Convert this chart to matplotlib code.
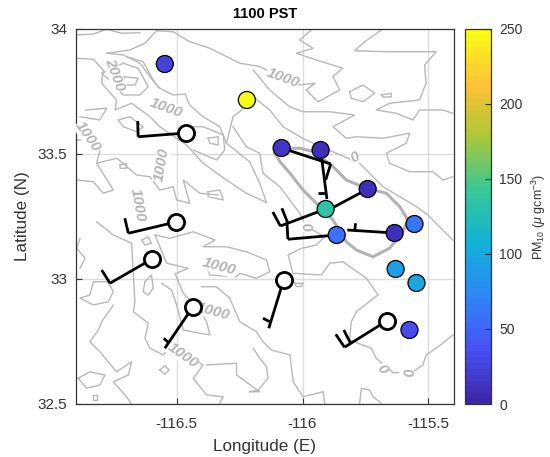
import matplotlib
matplotlib.use('Agg')
import matplotlib.pyplot as plt
from matplotlib.colors import LinearSegmentedColormap

plt.rcParams['font.family'] = ['Liberation Sans', 'DejaVu Sans']
plt.rcParams['mathtext.fontset'] = 'custom'
plt.rcParams['mathtext.rm'] = 'Liberation Sans'
plt.rcParams['mathtext.it'] = 'Liberation Sans:italic'

# parula
parula_colors = [(0.2422, 0.1504, 0.6603), (0.2810, 0.3228, 0.9579), (0.1786, 0.5289, 0.9682),
                 (0.0689, 0.6948, 0.8394), (0.2161, 0.7843, 0.5923), (0.6720, 0.7793, 0.2227),
                 (0.9970, 0.7659, 0.2199), (0.9769, 0.9839, 0.0805)]
parula = LinearSegmentedColormap.from_list('parula', parula_colors, N=64)

# stations with PM10
pm_lon = [-116.547, -116.221, -116.083, -115.928, -115.741, -115.908, -115.864, -115.634, -115.555, -115.630, -115.547, -115.575]
pm_lat = [33.860, 33.716, 33.524, 33.516, 33.360, 33.280, 33.176, 33.184, 33.220, 33.040, 32.984, 32.796]
pm_val = [25, 250, 15, 10, 8, 135, 55, 8, 62, 90, 100, 35]

# stations with wind only
open_lon = [-116.464, -116.503, -116.598, -116.436, -116.075, -115.666]
open_lat = [33.584, 33.228, 33.080, 32.888, 32.996, 32.832]

# wind sticks: station, stick end
wind_sticks = [
    [(-116.464, 33.584), (-116.653, 33.569)],
    [(-116.503, 33.228), (-116.692, 33.183)],
    [(-116.598, 33.080), (-116.765, 32.983)],
    [(-116.436, 32.888), (-116.547, 32.723)],
    [(-116.075, 32.996), (-116.134, 32.803)],
    [(-115.666, 32.832), (-115.833, 32.727)],
    [(-115.908, 33.280), (-116.088, 33.212)],
    [(-115.864, 33.176), (-116.058, 33.159)],
    [(-115.928, 33.516), (-115.903, 33.320)],
    [(-116.083, 33.524), (-115.888, 33.460)],
    [(-115.741, 33.360), (-115.908, 33.270)],
    [(-115.634, 33.184), (-115.822, 33.196)],
]
wind_barbs = [
    [(-116.653, 33.569), (-116.655, 33.632)],
    [(-116.692, 33.183), (-116.706, 33.243)],
    [(-116.765, 32.983), (-116.798, 33.036)],
    [(-116.530, 32.743), (-116.551, 32.763)],
    [(-116.126, 32.827), (-116.157, 32.843)],
    [(-115.833, 32.727), (-115.868, 32.779)],
    [(-115.809, 32.743), (-115.836, 32.796)],
    [(-116.088, 33.212), (-116.118, 33.268)],
    [(-116.058, 33.223), (-116.082, 33.283)],
    [(-116.058, 33.159), (-116.062, 33.229)],
    [(-115.905, 33.343), (-115.938, 33.343)],
    [(-115.888, 33.460), (-115.908, 33.396)],
    [(-115.793, 33.190), (-115.789, 33.223)],
]

# shoreline of the lake, drawn heavier
shoreline = [(-116.110, 33.503), (-116.077, 33.523), (-116.011, 33.523), (-115.958, 33.510), (-115.885, 33.456),
             (-115.826, 33.396), (-115.746, 33.363), (-115.667, 33.343), (-115.614, 33.290), (-115.581, 33.236),
             (-115.601, 33.189), (-115.654, 33.123), (-115.720, 33.089), (-115.786, 33.116), (-115.826, 33.149),
             (-115.879, 33.236), (-115.945, 33.303), (-115.998, 33.356), (-116.050, 33.423), (-116.090, 33.470),
             (-116.110, 33.503)]

# terrain contours
contour_lines = [
    [(-116.897, 33.976), (-116.831, 33.980), (-116.778, 33.999), (-116.719, 33.983), (-116.646, 33.985)],
    [(-116.778, 33.903), (-116.686, 33.916), (-116.626, 33.943), (-116.580, 33.993), (-116.514, 33.989),
     (-116.448, 33.949), (-116.368, 33.923), (-116.249, 33.863), (-116.170, 33.850), (-116.143, 33.836),
     (-116.077, 33.796), (-116.011, 33.776), (-115.950, 33.783), (-115.985, 33.756), (-115.938, 33.709),
     (-115.852, 33.756), (-115.879, 33.810), (-115.840, 33.843), (-115.945, 33.876), (-116.024, 33.903),
     (-115.958, 33.923), (-116.011, 33.956), (-115.965, 33.996)],
    [(-116.897, 33.883), (-116.831, 33.879), (-116.792, 33.836), (-116.798, 33.783), (-116.739, 33.716),
     (-116.745, 33.676), (-116.679, 33.703), (-116.606, 33.649), (-116.567, 33.609), (-116.461, 33.536),
     (-116.395, 33.463), (-116.302, 33.396), (-116.223, 33.343), (-116.143, 33.306)],
    [(-116.778, 33.903), (-116.712, 33.896), (-116.646, 33.863), (-116.606, 33.809), (-116.567, 33.763),
     (-116.514, 33.736), (-116.467, 33.740), (-116.448, 33.696), (-116.395, 33.649), (-116.328, 33.609),
     (-116.302, 33.543), (-116.210, 33.469), (-116.170, 33.383), (-116.143, 33.306)],
    [(-116.712, 33.863), (-116.653, 33.843), (-116.613, 33.769), (-116.646, 33.736), (-116.712, 33.736),
     (-116.752, 33.783), (-116.798, 33.823), (-116.712, 33.863)],
    [(-116.712, 33.809), (-116.653, 33.803), (-116.666, 33.776), (-116.705, 33.776), (-116.712, 33.809)],
    [(-116.699, 33.889), (-116.633, 33.869), (-116.586, 33.783), (-116.567, 33.763)],
    [(-116.732, 33.636), (-116.686, 33.649), (-116.633, 33.609), (-116.659, 33.589), (-116.712, 33.609), (-116.732, 33.636)],
    [(-116.375, 33.563), (-116.335, 33.569), (-116.335, 33.536), (-116.368, 33.543), (-116.375, 33.563)],
    [(-116.474, 33.609), (-116.395, 33.609), (-116.315, 33.576), (-116.309, 33.516), (-116.342, 33.476), (-116.434, 33.516)],
    [(-116.897, 33.556), (-116.858, 33.556), (-116.805, 33.516), (-116.818, 33.463), (-116.752, 33.356),
     (-116.792, 33.343), (-116.831, 33.389), (-116.897, 33.396)],
    [(-116.818, 33.463), (-116.738, 33.483), (-116.659, 33.416), (-116.606, 33.409), (-116.567, 33.356), (-116.514, 33.369),
     (-116.500, 33.316), (-116.448, 33.303), (-116.474, 33.396), (-116.408, 33.343), (-116.335, 33.336)],
    [(-116.375, 33.349), (-116.328, 33.356), (-116.315, 33.316), (-116.375, 33.329), (-116.375, 33.349)],
    [(-116.884, 33.649), (-116.805, 33.636), (-116.778, 33.683), (-116.862, 33.676)],
    [(-116.725, 33.456), (-116.699, 33.463), (-116.699, 33.443), (-116.725, 33.443), (-116.725, 33.456)],
    [(-116.818, 33.229), (-116.752, 33.176), (-116.679, 33.143), (-116.672, 33.016), (-116.666, 32.909),
     (-116.672, 32.869), (-116.613, 32.823), (-116.626, 32.763), (-116.606, 32.723), (-116.553, 32.696), (-116.514, 32.749)],
    [(-116.884, 33.163), (-116.897, 33.123), (-116.864, 33.083), (-116.884, 33.043)],
    [(-116.772, 32.989), (-116.831, 32.989), (-116.845, 32.936), (-116.884, 32.923), (-116.831, 32.896),
     (-116.772, 32.909), (-116.752, 32.949), (-116.772, 32.989)],
    [(-116.752, 32.896), (-116.798, 32.829), (-116.811, 32.796), (-116.845, 32.749), (-116.805, 32.709),
     (-116.739, 32.629), (-116.679, 32.669), (-116.692, 32.616), (-116.752, 32.589), (-116.699, 32.529), (-116.680, 32.500)],
    [(-116.891, 32.603), (-116.845, 32.629), (-116.785, 32.616), (-116.805, 32.576), (-116.858, 32.563), (-116.891, 32.603)],
    [(-116.832, 32.535), (-116.818, 32.535), (-116.818, 32.515), (-116.832, 32.515), (-116.832, 32.535)],
    [(-116.527, 32.743), (-116.395, 32.656), (-116.434, 32.603), (-116.381, 32.536), (-116.315, 32.529), (-116.331, 32.500)],
    [(-116.507, 33.023), (-116.474, 32.943), (-116.414, 32.883), (-116.381, 32.829), (-116.368, 32.776),
     (-116.474, 32.796), (-116.500, 32.896), (-116.520, 32.956), (-116.560, 32.983)],
    [(-116.586, 33.176), (-116.540, 33.063), (-116.454, 33.043), (-116.500, 33.023)],
    [(-116.586, 33.176), (-116.527, 33.163), (-116.434, 33.189), (-116.348, 33.156), (-116.395, 33.129),
     (-116.302, 33.129), (-116.223, 33.109), (-116.143, 33.076), (-116.130, 33.029), (-116.183, 33.003),
     (-116.249, 33.023), (-116.262, 33.009), (-116.368, 33.016), (-116.388, 33.069)],
    [(-116.401, 32.969), (-116.342, 32.969), (-116.289, 32.923), (-116.249, 32.829), (-116.183, 32.789),
     (-116.157, 32.749), (-116.124, 32.716), (-116.050, 32.696), (-116.037, 32.589), (-115.998, 32.529),
     (-115.918, 32.549), (-115.912, 32.503)],
    [(-116.381, 32.656), (-116.262, 32.663), (-116.262, 32.616), (-116.170, 32.549), (-116.210, 32.549)],
    [(-116.196, 32.723), (-116.170, 32.683), (-116.143, 32.649), (-116.137, 32.603), (-116.176, 32.556), (-116.210, 32.549)],
    [(-116.567, 32.636), (-116.547, 32.653), (-116.530, 32.636), (-116.547, 32.619), (-116.567, 32.636)],
    [(-116.639, 33.156), (-116.613, 33.169), (-116.600, 33.143), (-116.626, 33.136), (-116.639, 33.156)],
    [(-116.626, 32.989), (-116.600, 33.016), (-116.593, 32.963), (-116.613, 32.936), (-116.633, 32.949), (-116.626, 32.989)],
    [(-115.813, 33.749), (-115.760, 33.776), (-115.713, 33.743), (-115.760, 33.709), (-115.806, 33.723), (-115.813, 33.749)],
    [(-115.687, 33.736), (-115.647, 33.743), (-115.647, 33.729), (-115.680, 33.727), (-115.687, 33.736)],
    [(-115.753, 33.949), (-115.793, 33.913), (-115.654, 33.909), (-115.469, 33.909), (-115.515, 33.856),
     (-115.509, 33.783), (-115.535, 33.716), (-115.654, 33.703), (-115.707, 33.676), (-115.627, 33.663),
     (-115.561, 33.636), (-115.535, 33.676), (-115.442, 33.676), (-115.403, 33.663)],
    [(-115.753, 33.949), (-115.687, 33.996)],
    [(-116.302, 33.543), (-116.276, 33.649), (-116.242, 33.676), (-116.221, 33.716)],
    [(-116.276, 33.609), (-116.223, 33.529), (-116.170, 33.503), (-116.157, 33.423), (-116.090, 33.369),
     (-116.011, 33.263), (-115.998, 33.236)],
    [(-116.196, 33.836), (-116.130, 33.756), (-116.051, 33.689), (-115.998, 33.669), (-115.892, 33.669),
     (-115.793, 33.656), (-115.879, 33.609), (-115.826, 33.563), (-115.786, 33.569), (-115.680, 33.563),
     (-115.574, 33.583), (-115.588, 33.543), (-115.667, 33.503), (-115.654, 33.463), (-115.574, 33.429),
     (-115.482, 33.429), (-115.442, 33.396), (-115.403, 33.409)],
    # 0 m line
    [(-116.221, 33.716), (-116.196, 33.729), (-116.130, 33.676), (-116.077, 33.609), (-116.000, 33.563),
     (-115.866, 33.503), (-115.773, 33.463), (-115.680, 33.369), (-115.548, 33.290), (-115.502, 33.256), (-115.403, 33.156)],
    [(-115.403, 32.776), (-115.442, 32.743), (-115.508, 32.696), (-115.522, 32.656), (-115.561, 32.629),
     (-115.640, 32.625), (-115.707, 32.683), (-115.727, 32.723), (-115.813, 32.756), (-115.806, 32.829),
     (-115.786, 32.869), (-115.700, 32.936), (-115.746, 33.003), (-115.839, 33.069), (-115.892, 33.063),
     (-115.925, 33.016), (-116.038, 33.023), (-116.057, 33.096), (-116.004, 33.123), (-115.945, 33.136),
     (-115.912, 33.169), (-115.971, 33.203)],
    [(-116.031, 32.983), (-115.998, 32.983), (-116.005, 32.970), (-116.025, 32.970), (-116.031, 32.983)],
    [(-115.773, 32.503), (-115.766, 32.563), (-115.733, 32.556), (-115.720, 32.529), (-115.687, 32.503)],
]

# contour label: text, lon, lat, rotation
contour_text = ['2000', '1000', '1000', '1000', '1000', '1000', '0', '0', '1000', '1000', '1000', '0', '0']
contour_text_lon = [-116.745, -116.543, -116.852, -116.559, -116.654, -116.079, -115.793, -115.990, -116.329, -116.355, -116.476, -115.682, -115.587]
contour_text_lat = [33.816, 33.684, 33.568, 33.456, 33.296, 33.804, 33.488, 33.208, 33.048, 32.868, 32.696, 32.640, 32.628]
contour_text_rot = [-70, -20, -55, 80, -80, -20, 30, -75, -15, -15, -35, -55, -80]

x_ticks = [-116.5, -116, -115.5]
x_labels = ['-116.5', '-116', '-115.5']
y_ticks = [32.5, 33, 33.5, 34]
y_labels = ['32.5', '33', '33.5', '34']
cbar_ticks = [0, 50, 100, 150, 200, 250]

fig = plt.figure(figsize=(5.5, 4.57), dpi=100)
ax = fig.add_axes([76 / 550, 1 - 404 / 457, 377.5 / 550, 375 / 457])
cax = fig.add_axes([465 / 550, 1 - 404 / 457, 26 / 550, 375 / 457])

gray = '#b8b8b8'
for line in contour_lines:
    ax.plot([p[0] for p in line], [p[1] for p in line], color=gray, lw=1.0, solid_joinstyle='round', zorder=2)
ax.plot([p[0] for p in shoreline], [p[1] for p in shoreline], color='#b2b2b2', lw=2.2, solid_joinstyle='round', zorder=2.5)

for txt, lon, lat, rot in zip(contour_text, contour_text_lon, contour_text_lat, contour_text_rot):
    ax.text(lon, lat, txt, rotation=rot, rotation_mode='anchor', ha='center', va='center', color='#b4b4b4',
            fontsize=11, fontweight='bold', fontstyle='italic', zorder=3,
            bbox=dict(facecolor='white', edgecolor='none', pad=0.2))

for line in wind_sticks + wind_barbs:
    ax.plot([p[0] for p in line], [p[1] for p in line], color='black', lw=2, solid_capstyle='butt', zorder=4)

ax.scatter(open_lon, open_lat, s=135, facecolor='white', edgecolor='black', linewidth=2, zorder=5)
sc = ax.scatter(pm_lon, pm_lat, c=pm_val, s=150, cmap=parula, vmin=0, vmax=250,
                edgecolor='black', linewidth=0.9, zorder=6)

ax.set_xlim(-116.9, -115.4)
ax.set_ylim(32.5, 34)
ax.set_xticks(x_ticks)
ax.set_xticklabels(x_labels)
ax.set_yticks(y_ticks)
ax.set_yticklabels(y_labels)
ax.grid(True, color='#dcdcdc', lw=1)
ax.set_axisbelow(True)
ax.tick_params(axis='both', direction='in', length=4, width=0.8, labelsize=11, color='#333333', labelcolor='#333333')
ax.tick_params(axis='x', pad=9)
ax.tick_params(axis='y', pad=6.5)
ax.set_xlabel('Longitude (E)', fontsize=12.3, color='#333333', labelpad=6)
ax.set_ylabel('Latitude (N)', fontsize=12.3, color='#333333', labelpad=5)
ax.set_title('1100 PST', fontsize=10.5, fontweight='bold', pad=8)
for s in ax.spines.values():
    s.set_color('#333333')
    s.set_linewidth(0.9)

cb = fig.colorbar(sc, cax=cax)
cb.set_ticks(cbar_ticks)
cb.ax.tick_params(direction='in', length=4, width=0.8, labelsize=10, color='#333333', labelcolor='#333333', pad=6)
cb.set_label(r'PM$_{10}$ ($\mu$ gcm$^{-3}$)', fontsize=9, color='#333333', labelpad=5)
cb.outline.set_edgecolor('#333333')
cb.outline.set_linewidth(0.9)

fig.savefig('out.png', dpi=100)
